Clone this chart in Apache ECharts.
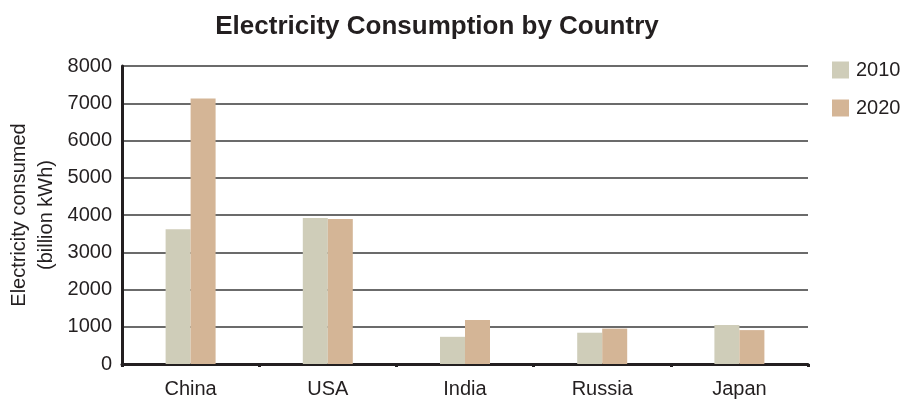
<!DOCTYPE html>
<html><head><meta charset="utf-8">
<script src="https://cdn.jsdelivr.net/npm/echarts@6/dist/echarts.min.js"></script>
<style>html,body{margin:0;padding:0;background:#fff}#c{width:907px;height:401px}</style>
</head><body><div id="c"></div>
<script>
const categories = ['China', 'USA', 'India', 'Russia', 'Japan'];
const values2010 = [3620, 3920, 730, 840, 1050];
const values2020 = [7130, 3890, 1180, 950, 910];
const yTicks = [0, 1000, 2000, 3000, 4000, 5000, 6000, 7000, 8000];

const chart = echarts.init(document.getElementById('c'));
const txt = '#231f20';
const font = '"Liberation Sans", Arial, Helvetica, sans-serif';
chart.setOption({
  animation: false,
  textStyle: { fontFamily: font },
  title: {
    text: 'Electricity Consumption by Country',
    left: 432, top: 9, textAlign: 'center',
    textStyle: { fontFamily: font, fontSize: 26, fontWeight: 'bold', color: txt }
  },
  legend: {
    orient: 'vertical', left: 832, top: 60, padding: 0,
    itemWidth: 17, itemHeight: 17, itemGap: 18,
    icon: 'rect',
    textStyle: { fontFamily: font, fontSize: 20, color: txt, padding: [0, 0, 0, 2] },
    data: ['2010', '2020']
  },
  grid: { left: 122, right: 99, top: 66, bottom: 37, containLabel: false, outerBoundsMode: 'none' },
  xAxis: {
    type: 'category', data: categories,
    axisLine: { lineStyle: { color: txt, width: 3 } },
    axisTick: { show: true, length: 3, lineStyle: { color: txt, width: 3 } },
    axisLabel: { fontFamily: font, fontSize: 20, color: txt, margin: 15 }
  },
  yAxis: {
    type: 'value', min: yTicks[0], max: yTicks[yTicks.length - 1], interval: 1000,
    name: 'Electricity consumed\n(billion kWh)',
    nameLocation: 'middle', nameGap: 62, nameRotate: 90, nameMoveOverlap: false,
    nameTextStyle: { fontFamily: font, fontSize: 20, color: txt, lineHeight: 27 },
    axisLine: { show: true, lineStyle: { color: txt, width: 3 } },
    axisTick: { show: false },
    axisLabel: { fontFamily: font, fontSize: 20, color: txt, margin: 10,
      formatter: v => String(v) },
    splitLine: { lineStyle: { color: '#3a3a3a', width: 1.5 } }
  },
  series: [
    { name: '2010', type: 'bar', data: values2010, barWidth: 25, barGap: '0%',
      itemStyle: { color: '#cfcdb9' } },
    { name: '2020', type: 'bar', data: values2020, barWidth: 25, barGap: '0%',
      itemStyle: { color: '#d4b596' } }
  ]
});
</script></body></html>
